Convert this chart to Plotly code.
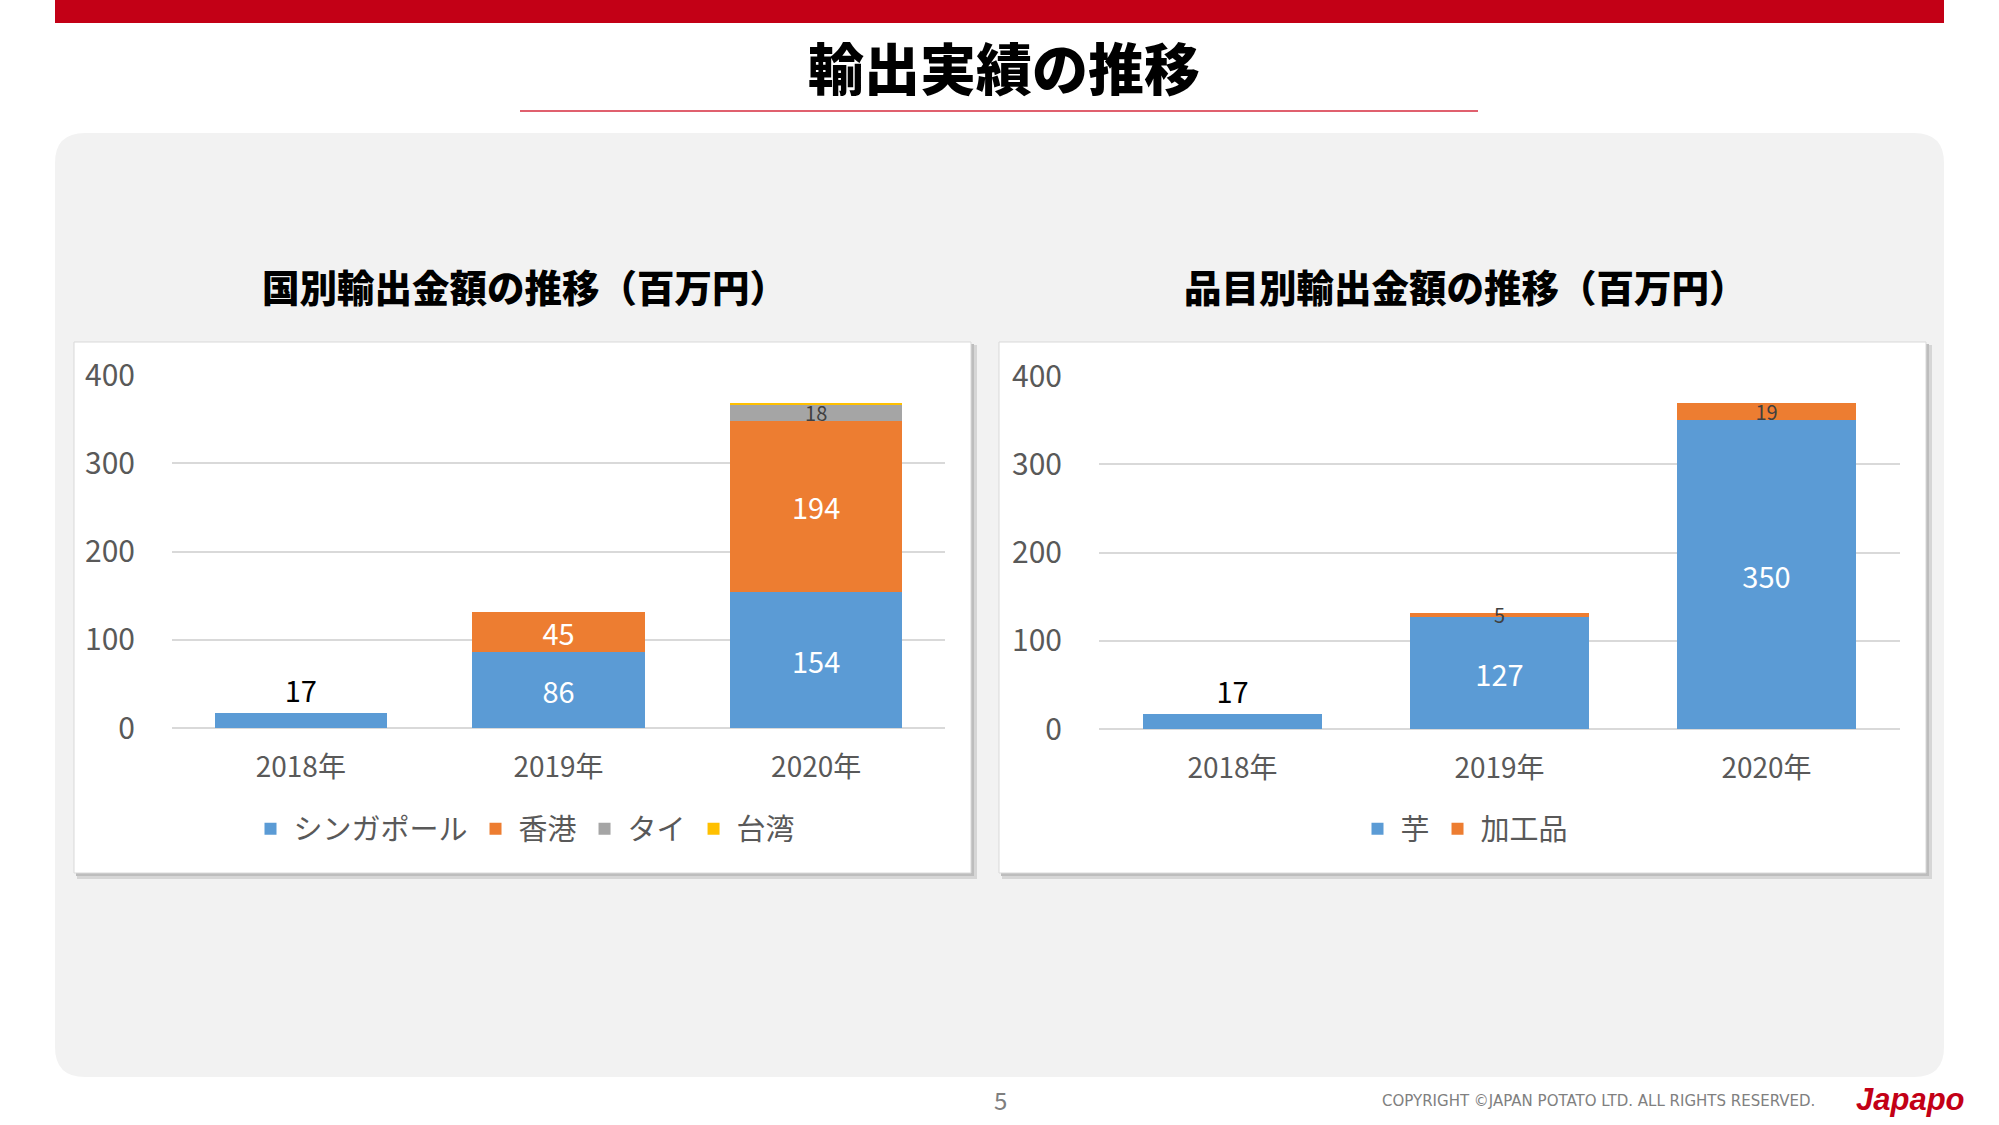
import plotly.graph_objects as go

W, H = 1999, 1125
FONT = "Noto Sans CJK JP"

# ---- data ----
years = ["2018年", "2019年", "2020年"]
singapore = [17, 86, 154]
hongkong = [None, 45, 194]
thailand = [None, None, 18]
taiwan = [None, None, 2]

imo = [17, 127, 350]
processed = [None, 5, 19]

country_names = ["シンガポール", "香港", "タイ", "台湾"]
item_names = ["芋", "加工品"]

BLUE, ORANGE, GRAY, YELLOW = "#5B9BD5", "#ED7D31", "#A5A5A5", "#FFC000"

def px(x):
    return x / W

def py(y):
    return 1 - y / H

fig = go.Figure()

big_pos = ["outside", "inside", "inside"]
big_col = ["#000000", "#FFFFFF", "#FFFFFF"]

def bar(name, ys, color, xa, ya, leg, pos, fcol, fsize, show_text=True):
    return go.Bar(
        name=name, x=years, y=ys, marker=dict(color=color, line=dict(width=0)),
        xaxis=xa, yaxis=ya, legend=leg,
        texttemplate="%{y}" if show_text else "",
        textposition=pos, insidetextanchor="middle", textangle=0,
        textfont=dict(family=FONT, size=fsize, color=fcol),
        constraintext="none", cliponaxis=False,
    )

fig.add_trace(bar(country_names[0], singapore, BLUE, "x", "y", "legend", big_pos, big_col, 29))
fig.add_trace(bar(country_names[1], hongkong, ORANGE, "x", "y", "legend", "inside", "#FFFFFF", 29))
fig.add_trace(bar(country_names[2], thailand, GRAY, "x", "y", "legend", "inside", "#404040", 20))
fig.add_trace(bar(country_names[3], taiwan, YELLOW, "x", "y", "legend", "inside", "#404040", 20, show_text=False))
fig.add_trace(bar(item_names[0], imo, BLUE, "x2", "y2", "legend2", big_pos, big_col, 29))
fig.add_trace(bar(item_names[1], processed, ORANGE, "x2", "y2", "legend2", "inside", "#404040", 20))

tickfont = dict(family=FONT, size=30, color="#595959")
xcommon = dict(showgrid=False, showline=False, zeroline=False, ticks="outside", ticklen=14,
               tickcolor="rgba(0,0,0,0)", tickfont=dict(family=FONT, size=28, color="#595959"),
               fixedrange=True, automargin=False)
ycommon = dict(range=[0, 400], dtick=100, showgrid=True, gridcolor="#D9D9D9", gridwidth=2,
               zeroline=True, zerolinecolor="#D9D9D9", zerolinewidth=2, showline=False,
               ticks="outside", ticklen=30, tickcolor="rgba(0,0,0,0)", tickfont=tickfont,
               fixedrange=True, automargin=False)

legfont = dict(family=FONT, size=29, color="#595959")
fig.update_layout(
    width=W, height=H, autosize=False, margin=dict(l=0, r=0, t=0, b=0, pad=0, autoexpand=False),
    paper_bgcolor="#FFFFFF", plot_bgcolor="rgba(0,0,0,0)",
    barmode="stack", bargap=0.33,
    font=dict(family=FONT, color="#595959"),
    xaxis=dict(domain=[px(172), px(945)], anchor="y", **xcommon),
    yaxis=dict(domain=[py(728), py(375)], anchor="x", **ycommon),
    xaxis2=dict(domain=[px(1099), px(1900)], anchor="y2", **xcommon),
    yaxis2=dict(domain=[py(729), py(376)], anchor="x2", **ycommon),
    legend=dict(orientation="h", x=px(524), y=py(829), xanchor="center", yanchor="middle",
                traceorder="normal", bgcolor="rgba(0,0,0,0)", itemwidth=36, font=legfont),
    legend2=dict(orientation="h", x=px(1464), y=py(829), xanchor="center", yanchor="middle",
                 traceorder="normal", bgcolor="rgba(0,0,0,0)", itemwidth=36, font=legfont),
    showlegend=True,
)

shapes = []
shapes.append(dict(type="rect", xref="paper", yref="paper", x0=px(55), x1=px(1944), y0=py(23), y1=py(0),
                   fillcolor="#C30016", line=dict(width=0), layer="below"))
shapes.append(dict(type="line", xref="paper", yref="paper", x0=px(520), x1=px(1478), y0=py(111), y1=py(111),
                   line=dict(color="#E0606E", width=2), layer="below"))

def rounded_path(x0, y0, x1, y1, r):
    rx, ry = r / W, r / H
    X0, X1 = px(x0), px(x1)
    Y0, Y1 = py(y1), py(y0)
    return (f"M{X0+rx},{Y0} L{X1-rx},{Y0} Q{X1},{Y0} {X1},{Y0+ry} "
            f"L{X1},{Y1-ry} Q{X1},{Y1} {X1-rx},{Y1} L{X0+rx},{Y1} Q{X0},{Y1} {X0},{Y1-ry} "
            f"L{X0},{Y0+ry} Q{X0},{Y0} {X0+rx},{Y0} Z")

shapes.append(dict(type="path", xref="paper", yref="paper", path=rounded_path(55, 133, 1944, 1077, 30),
                   fillcolor="#F2F2F2", line=dict(width=0), layer="below"))

for (x0, y0, x1, y1) in [(74, 342, 971, 873), (999, 342, 1926, 873)]:
    shapes.append(dict(type="rect", xref="paper", yref="paper", x0=px(x0 + 3), x1=px(x1 + 6), y0=py(y1 + 6), y1=py(y0 + 3),
                       fillcolor="#D6D6D6", line=dict(width=0), layer="below"))
    shapes.append(dict(type="rect", xref="paper", yref="paper", x0=px(x0 + 2), x1=px(x1 + 3), y0=py(y1 + 3), y1=py(y0 + 2),
                       fillcolor="#BDBDBD", line=dict(width=0), layer="below"))
    shapes.append(dict(type="rect", xref="paper", yref="paper", x0=px(x0), x1=px(x1), y0=py(y1), y1=py(y0),
                       fillcolor="#FFFFFF", line=dict(color="#D9D9D9", width=1), layer="below"))

fig.update_layout(shapes=shapes)

ann = []
ann.append(dict(text="輸出実績の推移", x=px(1004), y=py(65), xref="paper", yref="paper",
                showarrow=False, xanchor="center", yanchor="middle",
                font=dict(family=FONT, size=56, color="#000000", weight=900)))
ann.append(dict(text="国別輸出金額の推移（百万円）", x=px(524), y=py(285), xref="paper", yref="paper",
                showarrow=False, xanchor="center", yanchor="middle",
                font=dict(family=FONT, size=37.5, color="#000000", weight=900)))
ann.append(dict(text="品目別輸出金額の推移（百万円）", x=px(1465), y=py(285), xref="paper", yref="paper",
                showarrow=False, xanchor="center", yanchor="middle",
                font=dict(family=FONT, size=37.5, color="#000000", weight=900)))
ann.append(dict(text="5", x=px(1000), y=py(1099), xref="paper", yref="paper",
                showarrow=False, xanchor="center", yanchor="middle",
                font=dict(family=FONT, size=24, color="#7F7F7F")))
ann.append(dict(text="COPYRIGHT ©JAPAN POTATO LTD. ALL RIGHTS RESERVED.", x=px(1817), y=py(1101),
                xref="paper", yref="paper", showarrow=False, xanchor="right", yanchor="middle",
                font=dict(family="DejaVu Sans", size=15, color="#808080")))
ann.append(dict(text="<b><i>Japapo</i></b>", x=px(1910), y=py(1099), xref="paper", yref="paper",
                showarrow=False, xanchor="center", yanchor="middle",
                font=dict(family="Liberation Sans", size=31, color="#C30016")))
fig.update_layout(annotations=ann)

post = """
document.body.style.margin='0';
document.body.style.overflow='hidden';
"""
fig.write_html("out.html", config={"displayModeBar": False}, post_script=post)
